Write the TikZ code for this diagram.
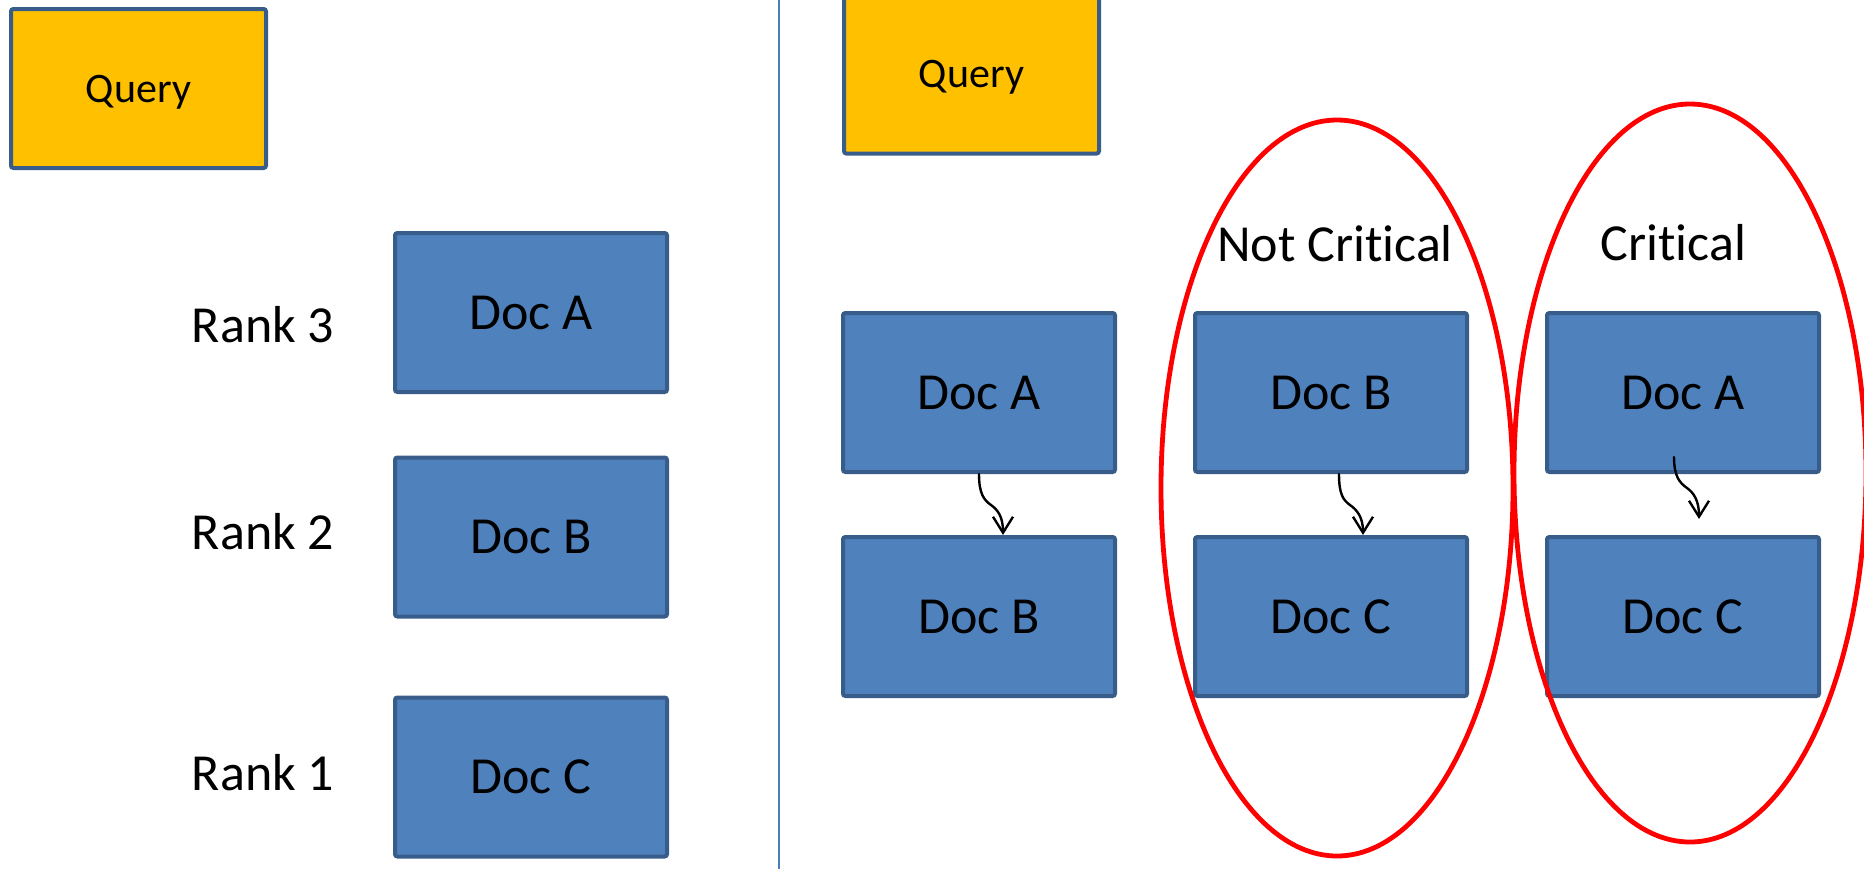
\documentclass[tikz,border=0pt]{standalone}
\usepackage{fontspec}
\setmainfont{Carlito}[Ligatures=NoCommon]
\usetikzlibrary{arrows.meta}
\definecolor{docfill}{HTML}{4F81BD}
\definecolor{docline}{HTML}{385D8A}
\definecolor{queryfill}{HTML}{FFC000}
\definecolor{divline}{HTML}{4A7EBB}
\begin{document}
\begin{tikzpicture}[x=0.5pt,y=-0.5pt,
  docbox/.style={draw=docline, fill=docfill, line width=2pt, rounded corners=1.2pt,
    minimum width=136pt, minimum height=79.5pt, inner sep=0pt, font=\fontsize{26}{31}\selectfont},
  querybox/.style={draw=docline, fill=queryfill, line width=2pt, rounded corners=1.2pt,
    minimum width=127.5pt, minimum height=79.5pt, inner sep=0pt, text depth=0pt,
    font=\fontsize{21}{25}\selectfont},
  lbl/.style={inner sep=0pt, anchor=base, font=\fontsize{26}{31}\selectfont},
  crit/.style={draw=red, line width=2.4pt},
  flow/.style={-{Straight Barb[length=8pt,width=10pt]}, line width=1.2pt, line cap=round}
]
\useasboundingbox (0,0) rectangle (1864,869);
\clip (0,0) rectangle (1864,869);

% divider
\coordinate (dtop) at (779,0);
\coordinate (dbot) at (779,869);
\draw[divline, line width=0.9pt] (dtop) -- (dbot);

% left panel
\node[querybox] (lq) at (138.5,88.5) {Query};
\node[docbox] (la) at (531,312.5) {Doc A};
\node[docbox] (lb) at (531,537) {Doc B};
\node[docbox] (lc) at (531,777) {Doc C};
\node[lbl] (r3) at (263,342) {Rank 3};
\node[lbl] (r2) at (263,549.5) {Rank 2};
\node[lbl] (r1) at (263,790) {Rank 1};

% right panel
\node[querybox] (rq) at (971.5,74) {Query};
\node[docbox] (ra) at (979,392.5) {Doc A};
\node[docbox] (rb) at (979,616.5) {Doc B};
\node[docbox] (mb) at (1331,392.5) {Doc B};
\node[docbox] (mc) at (1331,616.5) {Doc C};
\node[docbox] (xa) at (1683,392.5) {Doc A};
\node[docbox] (xc) at (1683,616.5) {Doc C};

\node[lbl] (nc) at (1335,261) {Not Crit\kern0pt ical};
\node[lbl] (cr) at (1673.5,260) {Crit\kern0pt ical};

% arrows
\draw[flow] (ra.south) .. controls +(0,20) and +(-7,-5) .. ++(12,31)
  .. controls +(7,5) and +(0,-18) .. ([xshift=12pt]rb.north);
\draw[flow] ([xshift=4pt]mb.south) .. controls +(0,20) and +(-7,-5) .. ++(11,31)
  .. controls +(7,5) and +(0,-18) .. ([xshift=16pt]mc.north);
\draw[flow] ([xshift=-4.5pt,yshift=8.5pt]xa.south) .. controls +(0,20) and +(-7,-5) .. ++(13,31)
  .. controls +(7,5) and +(0,-18) .. ([xshift=8pt,yshift=8pt]xc.north);

% ellipses
\draw[crit] (1337,488) ellipse [x radius=88pt, y radius=184pt];
\draw[crit] (1690,473) ellipse [x radius=88pt, y radius=184.5pt];
\end{tikzpicture}
\end{document}
